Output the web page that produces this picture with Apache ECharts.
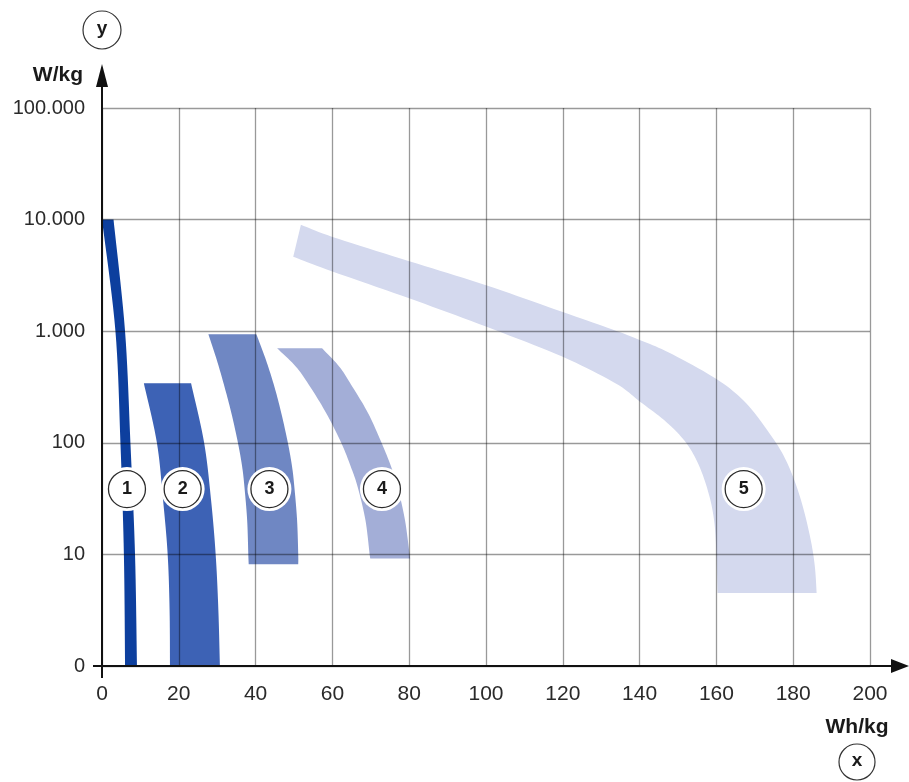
<!DOCTYPE html>
<html><head><meta charset="utf-8">
<script src="https://cdn.jsdelivr.net/npm/echarts@6/dist/echarts.min.js"></script>
<style>html,body{margin:0;padding:0;background:#fff}#c{width:909px;height:782px}</style>
</head><body><div id="c"></div>
<script>
// ---- data ----
const xMin = 0, xMax = 200, xStep = 20;
const yTickValues = [1, 10, 100, 1000, 10000, 100000];
const yTickLabels = ['0', '10', '100', '1.000', '10.000', '100.000'];
const xAxisName = 'Wh/kg', yAxisName = 'W/kg';
const bandNames = ['1', '2', '3', '4', '5'];

const band1Outer = [[3.0,10000],[6.0,1000],[7.4,100],[8.6,10],[9.1,1]];
const band1Inner = [[0.0,10000],[3.5,1000],[4.8,100],[5.7,10],[6.0,1]];

const band2Outer = [[23.2,341],[26.6,100],[28.4,30.7],[29.6,10],[30.3,3.2],[30.7,1]];
const band2Inner = [[10.9,341],[14.3,100],[15.9,30.7],[17.1,10],[17.6,3.2],[17.7,1]];

const band3Outer = [[40.2,938],[42.7,552],[44.9,318],[46.7,184],[48.4,100],[49.5,61],[50.1,40],[50.8,20.3],[51.1,10],[51.1,8.15]];
const band3Inner = [[27.7,938],[29.9,552],[31.9,318],[33.7,184],[35.4,100],[36.5,61],[37.1,40],[37.8,20.3],[38.1,10],[38.2,8.15]];

const band4Outer = [[57.3,703],[61.8,481],[65.2,318],[69.3,184],[72.8,100],[75.3,61],[77.0,40],[78.9,20.3],[80.1,10],[80.3,9.2]];
const band4Inner = [[45.6,703],[50.5,481],[54.2,318],[58.4,184],[62.3,100],[64.8,61],[66.6,40],[68.6,20.3],[69.7,10],[69.9,9.2]];

const band5Outer = [[51.8,9000],[60,7000],[80,4240],[100,2580],[120,1486],[133.8,1010],[140,835],[147.6,644],[160,373],[167.7,227],[174.3,115],[178.2,68.7],[181.7,33.4],[184.3,14.9],[185.6,8.0],[186.1,4.5]];
const band5Inner = [[49.8,4650],[60,3430],[80,1970],[100,1100],[120,589],[133.8,340],[140,235],[147,153],[152.1,100],[155.6,61],[158.2,33],[159.5,18.9],[160,10.1],[160.3,4.5]];

const labelX = [6.5, 21.0, 43.6, 72.9, 167.1];
const labelY = [38.5, 38.5, 38.5, 38.5, 38.5];

// ---- styles ----
const bandColors = ['#0d3f9e', '#3d62b5', '#6f87c3', '#a3aed7', '#d4d9ee'];
const FONT = '"Liberation Sans", Arial, Helvetica, sans-serif';
const GRID_LINE = { color: 'rgba(0,0,0,0.40)', width: 1.3 };

function smooth(p) {
  const out = [], n = p.length, seg = 10;
  for (let k = 0; k < n - 1; k++) {
    const p0 = p[Math.max(k - 1, 0)], p1 = p[k], p2 = p[k + 1], p3 = p[Math.min(k + 2, n - 1)];
    for (let s = 0; s < seg; s++) {
      const t = s / seg, t2 = t * t, t3 = t2 * t;
      const f = (a, b, c, d) => 0.5 * (2 * b + (-a + c) * t + (2 * a - 5 * b + 4 * c - d) * t2 + (-a + 3 * b - 3 * c + d) * t3);
      out.push([f(p0[0], p1[0], p2[0], p3[0]), f(p0[1], p1[1], p2[1], p3[1])]);
    }
  }
  out.push(p[n - 1]);
  return out;
}

function bandSeries(outer, inner, color) {
  return {
    type: 'custom', z: 1, silent: true,
    data: outer.concat(inner.slice().reverse()),
    encode: { x: 0, y: 1 },
    renderItem: function (params, api) {
      if (params.dataIndex !== 0) return;
      const o = smooth(outer.map(p => api.coord(p)));
      const i = smooth(inner.map(p => api.coord(p)));
      return { type: 'polygon', shape: { points: o.concat(i.reverse()) }, style: { fill: color } };
    }
  };
}

const labelData = labelX.map((x, i) => [x, labelY[i]]);

const chart = echarts.init(document.getElementById('c'));
chart.setOption({
  animation: false,
  backgroundColor: '#fff',
  grid: { left: 102, top: 108, width: 768, height: 558, outerBoundsMode: 'none' },
  xAxis: {
    type: 'value', min: xMin, max: xMax, interval: xStep, z: 3,
    axisLine: { show: false }, axisTick: { show: false },
    axisLabel: { margin: 18, fontSize: 21, color: '#2a2a2a', fontFamily: FONT },
    splitLine: { show: true, lineStyle: GRID_LINE }
  },
  yAxis: {
    type: 'log', logBase: 10, min: yTickValues[0], max: yTickValues[yTickValues.length - 1], z: 3,
    axisLine: { show: false }, axisTick: { show: false },
    axisLabel: {
      margin: 17, fontSize: 20, color: '#2a2a2a', fontFamily: FONT,
      formatter: v => { const k = yTickValues.findIndex(t => Math.abs(t - v) < 1e-6 * t); return k >= 0 ? yTickLabels[k] : ''; }
    },
    splitLine: { show: true, lineStyle: GRID_LINE }
  },
  series: [
    bandSeries(band1Outer, band1Inner, bandColors[0]),
    bandSeries(band2Outer, band2Inner, bandColors[1]),
    bandSeries(band3Outer, band3Inner, bandColors[2]),
    bandSeries(band4Outer, band4Inner, bandColors[3]),
    bandSeries(band5Outer, band5Inner, bandColors[4]),
    { type: 'scatter', z: 5, silent: true, data: labelData, symbolSize: 44,
      itemStyle: { color: '#fff', opacity: 1 } },
    { type: 'scatter', z: 6, silent: true, data: labelData, symbolSize: 37,
      itemStyle: { color: '#fff', opacity: 1, borderColor: '#2b2b2b', borderWidth: 1.3 },
      label: { show: true, position: 'inside', formatter: p => bandNames[p.dataIndex],
        fontSize: 18, fontWeight: 'bold', color: '#1a1a1a', fontFamily: FONT } }
  ]
});

const o = chart.convertToPixel({ gridIndex: 0 }, [xMin, yTickValues[0]]);
const t = chart.convertToPixel({ gridIndex: 0 }, [xMax, yTickValues[yTickValues.length - 1]]);
const tipX = t[0] + 39, tipY = t[1] - 44;
const ink = '#111';
chart.setOption({
  graphic: [
    { type: 'line', z: 10, shape: { x1: o[0] - 9, y1: o[1], x2: tipX - 12, y2: o[1] }, style: { stroke: ink, lineWidth: 2 } },
    { type: 'polygon', z: 10, shape: { points: [[tipX, o[1]], [tipX - 18, o[1] - 7], [tipX - 18, o[1] + 7]] }, style: { fill: ink } },
    { type: 'line', z: 10, shape: { x1: o[0], y1: o[1] + 12, x2: o[0], y2: tipY + 14 }, style: { stroke: ink, lineWidth: 2 } },
    { type: 'polygon', z: 10, shape: { points: [[o[0], tipY], [o[0] - 6, tipY + 23], [o[0] + 6, tipY + 23]] }, style: { fill: ink } },
    { type: 'text', z: 10, x: o[0] - 19, y: t[1] - 33, style: { text: yAxisName, font: 'bold 21px ' + FONT, align: 'right', verticalAlign: 'middle', fill: '#1a1a1a' } },
    { type: 'circle', z: 10, shape: { cx: o[0], cy: t[1] - 78, r: 19 }, style: { fill: '#fff', stroke: '#333', lineWidth: 1.2 } },
    { type: 'text', z: 11, x: o[0], y: t[1] - 79, style: { text: 'y', font: 'bold 19px ' + FONT, align: 'center', verticalAlign: 'middle', fill: '#1a1a1a' } },
    { type: 'text', z: 10, x: t[0] - 13, y: o[1] + 61, style: { text: xAxisName, font: 'bold 21px ' + FONT, align: 'center', verticalAlign: 'middle', fill: '#1a1a1a' } },
    { type: 'circle', z: 10, shape: { cx: t[0] - 13, cy: o[1] + 96, r: 18 }, style: { fill: '#fff', stroke: '#333', lineWidth: 1.2 } },
    { type: 'text', z: 11, x: t[0] - 13, y: o[1] + 95, style: { text: 'x', font: 'bold 19px ' + FONT, align: 'center', verticalAlign: 'middle', fill: '#1a1a1a' } }
  ]
});
</script></body></html>
